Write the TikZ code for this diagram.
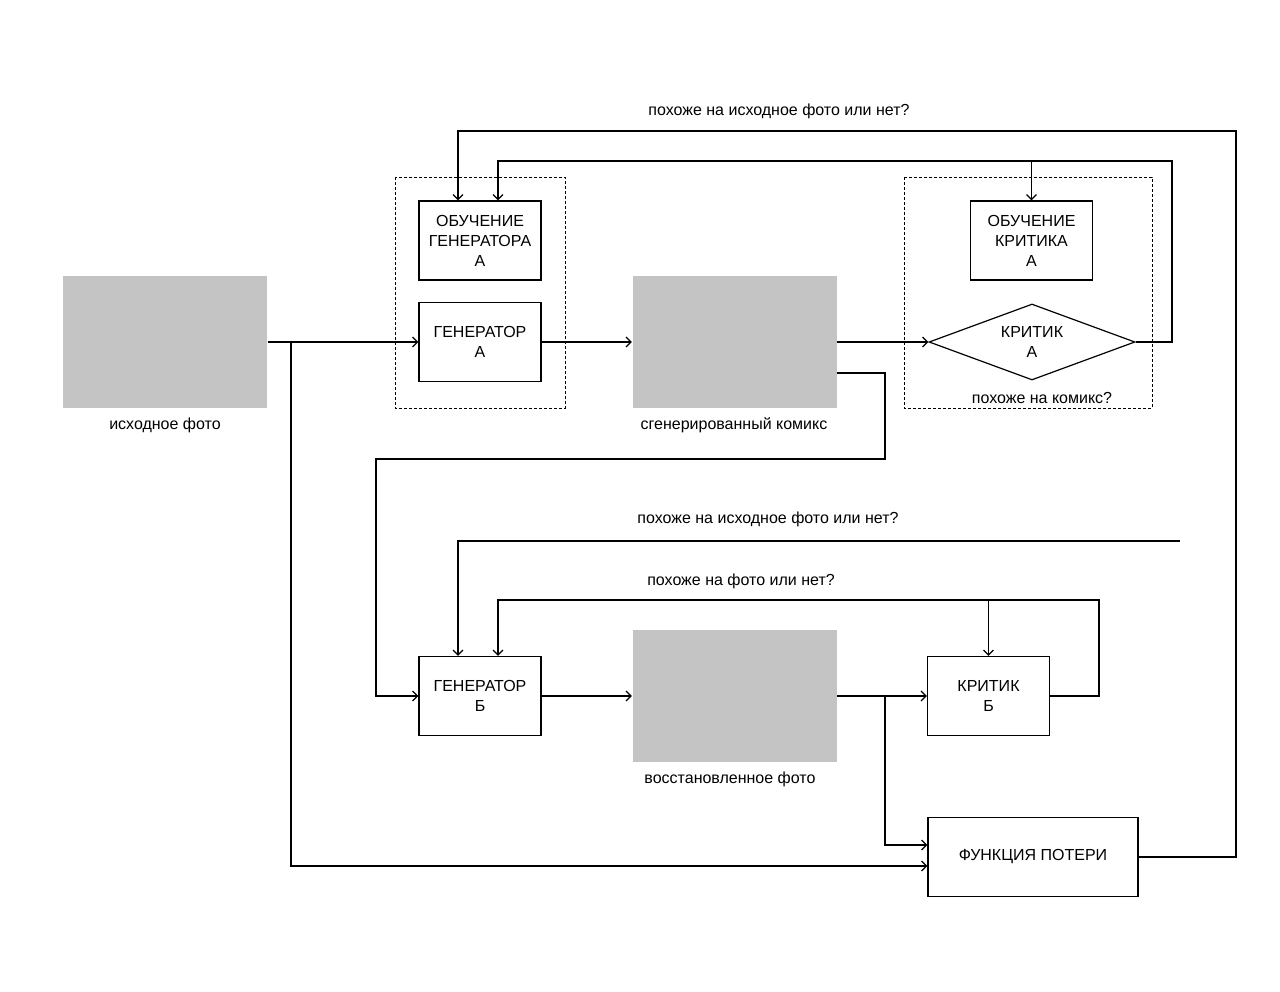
\documentclass[tikz,border=0pt]{standalone}
\usepackage{fontspec}
\setmainfont{Liberation Sans}
\usetikzlibrary{shapes.geometric,arrows.meta}

\begin{document}
\begin{tikzpicture}
  [x=1pt,y=-1pt,line width=1.2pt,
   font=\fontsize{16}{20}\selectfont,
   box/.style={draw,rectangle,align=center,minimum width=122pt,minimum height=79pt,inner sep=0pt},
   pic/.style={rectangle,fill=black!23,minimum width=204pt,minimum height=132pt,inner sep=0pt},
   judge/.style={draw,diamond,align=center,aspect=2.7,minimum width=206pt,minimum height=76pt,inner sep=0pt},
   group/.style={draw,line width=0.6pt,dash pattern=on 3pt off 2pt},
   arr/.style={-{Straight Barb[length=5pt,width=10pt]}}]

  \useasboundingbox (0,0) rectangle (1280,992);

  % pictures
  \node[pic] (photo) at (165,342) {};
  \node (photolbl) at (165,425) {исходное фото};
  \node[pic] (comic) at (734.5,342) {};
  \node (comiclbl) at (734,425) {сгенерированный комикс};
  \node[pic] (restored) at (734.5,696) {};
  \node (restoredlbl) at (730,779) {восстановленное фото};

  % first cycle
  \draw[group] (395,177) rectangle (565,408);
  \draw[group] (904,177) rectangle (1152,408);
  \node[box] (obgen) at (480,240.5) {ОБУЧЕНИЕ\\ГЕНЕРАТОРА\\А};
  \node[box] (genA) at (480,342) {ГЕНЕРАТОР\\А};
  \node[box] (obcrit) at (1031.5,240.5) {ОБУЧЕНИЕ\\КРИТИКА\\А};
  \node[judge] (critA) at (1032,342) {КРИТИК\\А};
  \node (critAlbl) at (1042,398) {похоже на комикс?};

  % second cycle
  \node[box] (genB) at (480,696) {ГЕНЕРАТОР\\Б};
  \node[box] (critB) at (988.5,696) {КРИТИК\\Б};
  \node[box,minimum width=210pt] (loss) at (1033,857) {ФУНКЦИЯ ПОТЕРИ};

  \node (topq) at (779,111) {похоже на исходное фото или нет?};
  \node (midq) at (768,519) {похоже на исходное фото или нет?};
  \node (lowq) at (741,581) {похоже на фото или нет?};

  \coordinate (s1) at (291,342);
  \coordinate (s2) at (885,696);
  \coordinate (loopA) at (1172,161);
  \coordinate (loopO) at (1236,131);
  \coordinate (bendC) at (885,459);
  \coordinate (bendD) at (376,459);
  \coordinate (loopB) at (1099,600);
  \coordinate (openB) at (1180,541);

  \foreach \from/\to in {photo/genA,genA/comic,comic/critA,genB/restored,restored/critB}
    \draw[arr] (\from) -- (\to);

  \draw[arr] (s1) |- ([yshift=-9pt]loss.west);
  \draw[arr] (s2) |- ([yshift=12pt]loss.west);
  \draw[arr] (critA.east) -| (loopA) -| ([xshift=18pt]obgen.north);
  \draw[arr] (obcrit.north |- loopA) -- (obcrit.north);
  \draw[arr] (loss.east) -| (loopO) -| ([xshift=-22pt]obgen.north);
  \draw[arr] ([yshift=-31pt]comic.east) -| (bendC) -- (bendD) |- (genB.west);
  \draw[arr] (critB.east) -| (loopB) -| ([xshift=18pt]genB.north);
  \draw[arr] (critB.north |- loopB) -- (critB.north);
  \draw[arr] (openB) -| ([xshift=-22pt]genB.north);
\end{tikzpicture}
\end{document}
